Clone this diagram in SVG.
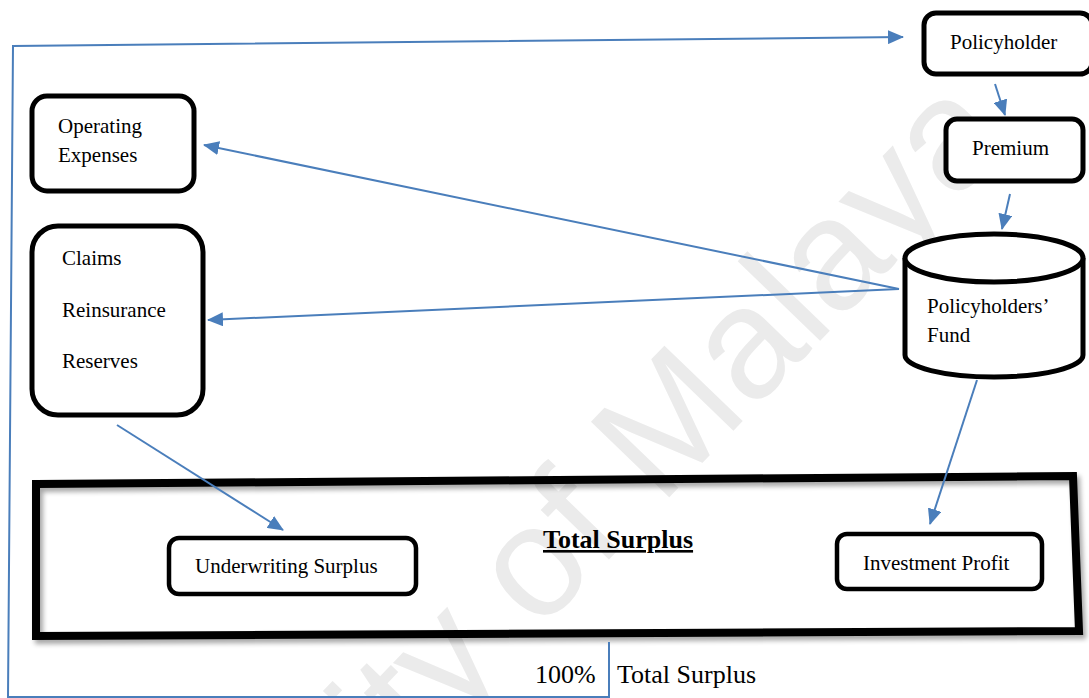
<svg xmlns="http://www.w3.org/2000/svg" width="1089" height="698" viewBox="0 0 1089 698">
  <defs>
    <style>
      .box { fill: #ffffff; stroke: #000000; stroke-width: 5; }
      .thin { fill: #ffffff; stroke: #000000; stroke-width: 4.5; }
      .lbl { font-family: "Liberation Serif", "Times New Roman", serif; font-size: 21px; fill: #000000; }
      .big { font-family: "Liberation Serif", "Times New Roman", serif; font-size: 26px; fill: #000000; }
      .flow { fill: none; stroke: #4a7ebb; stroke-width: 2; }
      .mark { font-family: "Liberation Sans", Arial, sans-serif; font-size: 158px; fill: #ebebeb; }
    </style>
    <marker id="arrow" markerUnits="userSpaceOnUse" markerWidth="16" markerHeight="14" refX="15" refY="7" orient="auto">
      <path d="M0,0 L16,7 L0,14 Z" fill="#4a7ebb"/>
    </marker>
    <filter id="shadow" x="-5%" y="-20%" width="110%" height="140%">
      <feGaussianBlur in="SourceAlpha" stdDeviation="2.5"/>
      <feOffset dx="3" dy="4" result="b"/>
      <feComponentTransfer><feFuncA type="linear" slope="0.35"/></feComponentTransfer>
      <feMerge><feMergeNode/><feMergeNode in="SourceGraphic"/></feMerge>
    </filter>
  </defs>

  <rect width="1089" height="698" fill="#ffffff"/>

  <!-- background watermark -->
  <g transform="translate(706,459) rotate(-46)">
    <text class="mark" x="-979" y="0">University of Malaya</text>
  </g>

  <!-- surplus frame -->
  <g id="total-surplus">
    <polygon points="36,484 1073,476 1079,631 36,636" fill="none" stroke="#000000" stroke-width="8" filter="url(#shadow)"/>
    <text class="big" x="543" y="548" font-weight="bold" text-decoration="underline">Total Surplus</text>
  </g>

  <g id="policyholder">
    <rect class="box" x="924" y="13" width="168" height="61" rx="12"/>
    <text class="lbl" x="950" y="49">Policyholder</text>
  </g>

  <g id="premium">
    <rect class="box" x="946" y="119" width="137" height="62" rx="11"/>
    <text class="lbl" x="972" y="155">Premium</text>
  </g>

  <g id="policyholders-fund">
    <path class="box" d="M905,258 L905,355 A89,22 0 0 0 1083,355 L1083,258"/>
    <ellipse class="box" cx="994" cy="258" rx="89" ry="24"/>
    <text class="lbl" x="927" y="313">Policyholders’</text>
    <text class="lbl" x="927" y="342">Fund</text>
  </g>

  <g id="operating-expenses">
    <rect class="box" x="32" y="96" width="162" height="95" rx="15"/>
    <text class="lbl" x="58" y="133">Operating</text>
    <text class="lbl" x="58" y="162">Expenses</text>
  </g>

  <g id="claims-reinsurance-reserves">
    <rect class="box" x="32" y="226" width="171" height="189" rx="26"/>
    <text class="lbl" x="62" y="265">Claims</text>
    <text class="lbl" x="62" y="317">Reinsurance</text>
    <text class="lbl" x="62" y="368">Reserves</text>
  </g>

  <g id="underwriting-surplus">
    <rect class="thin" x="169" y="538" width="247" height="56" rx="10"/>
    <text class="lbl" x="195" y="573">Underwriting Surplus</text>
  </g>

  <g id="investment-profit">
    <rect class="thin" x="837" y="534" width="205" height="55" rx="10"/>
    <text class="lbl" x="863" y="570">Investment Profit</text>
  </g>

  <g id="distribution">
    <text class="big" x="535" y="683">100%</text>
    <text class="big" x="617" y="683">Total Surplus</text>
  </g>

  <!-- connectors -->
  <g id="connectors">
    <polyline class="flow" points="609,642 609,697 8,697 13,46 903,37" marker-end="url(#arrow)"/>
    <line class="flow" x1="995" y1="84" x2="1005" y2="115" marker-end="url(#arrow)"/>
    <line class="flow" x1="1010" y1="194" x2="1002" y2="229" marker-end="url(#arrow)"/>
    <line class="flow" x1="899" y1="289" x2="204" y2="145" marker-end="url(#arrow)"/>
    <line class="flow" x1="899" y1="289" x2="208" y2="320" marker-end="url(#arrow)"/>
    <line class="flow" x1="977" y1="380" x2="930" y2="524" marker-end="url(#arrow)"/>
    <line class="flow" x1="117" y1="425" x2="283" y2="530" marker-end="url(#arrow)"/>
  </g>
</svg>
